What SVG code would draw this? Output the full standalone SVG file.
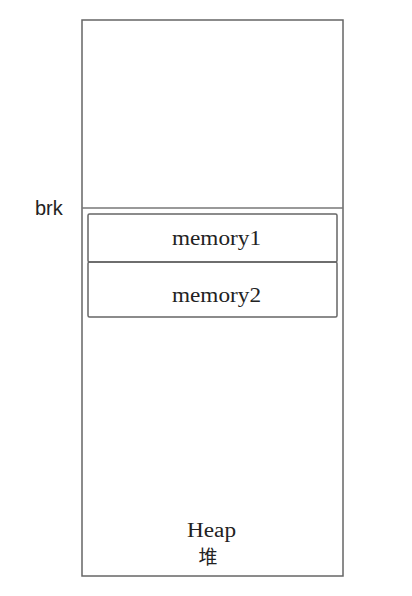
<svg xmlns="http://www.w3.org/2000/svg" width="412" height="596" viewBox="0 0 412 596">
<style>
.box{fill:none;stroke:#666;stroke-width:1.5}
.line{stroke:#777;stroke-width:1.5}
.serif{font-family:"Liberation Serif","Noto Sans CJK SC",serif;fill:#222;text-anchor:middle}
.sans{font-family:"Liberation Sans",sans-serif;fill:#222}
</style>
<rect width="412" height="596" fill="#fff"/>
<g id="heap">
<rect class="box" x="82" y="20" width="261" height="556"/>
<text class="serif" x="211.5" y="537" font-size="20" textLength="49" lengthAdjust="spacingAndGlyphs">Heap</text>
<text class="serif" x="208" y="564" font-size="19" font-family="Noto Sans CJK SC,serif">堆</text>
</g>
<g id="connectors">
<line class="line" x1="82" y1="208" x2="343" y2="208"/>
</g>
<g id="brk">
<text class="sans" x="35" y="215" font-size="20">brk</text>
</g>
<g id="memory1">
<rect class="box" x="88" y="214" width="249" height="48" rx="1.5"/>
<text class="serif" x="216.5" y="245" font-size="21" textLength="89" lengthAdjust="spacingAndGlyphs">memory1</text>
</g>
<g id="memory2">
<rect class="box" x="88" y="262" width="249" height="55" rx="1.5"/>
<text class="serif" x="216.5" y="302" font-size="21" textLength="89" lengthAdjust="spacingAndGlyphs">memory2</text>
</g>
</svg>
